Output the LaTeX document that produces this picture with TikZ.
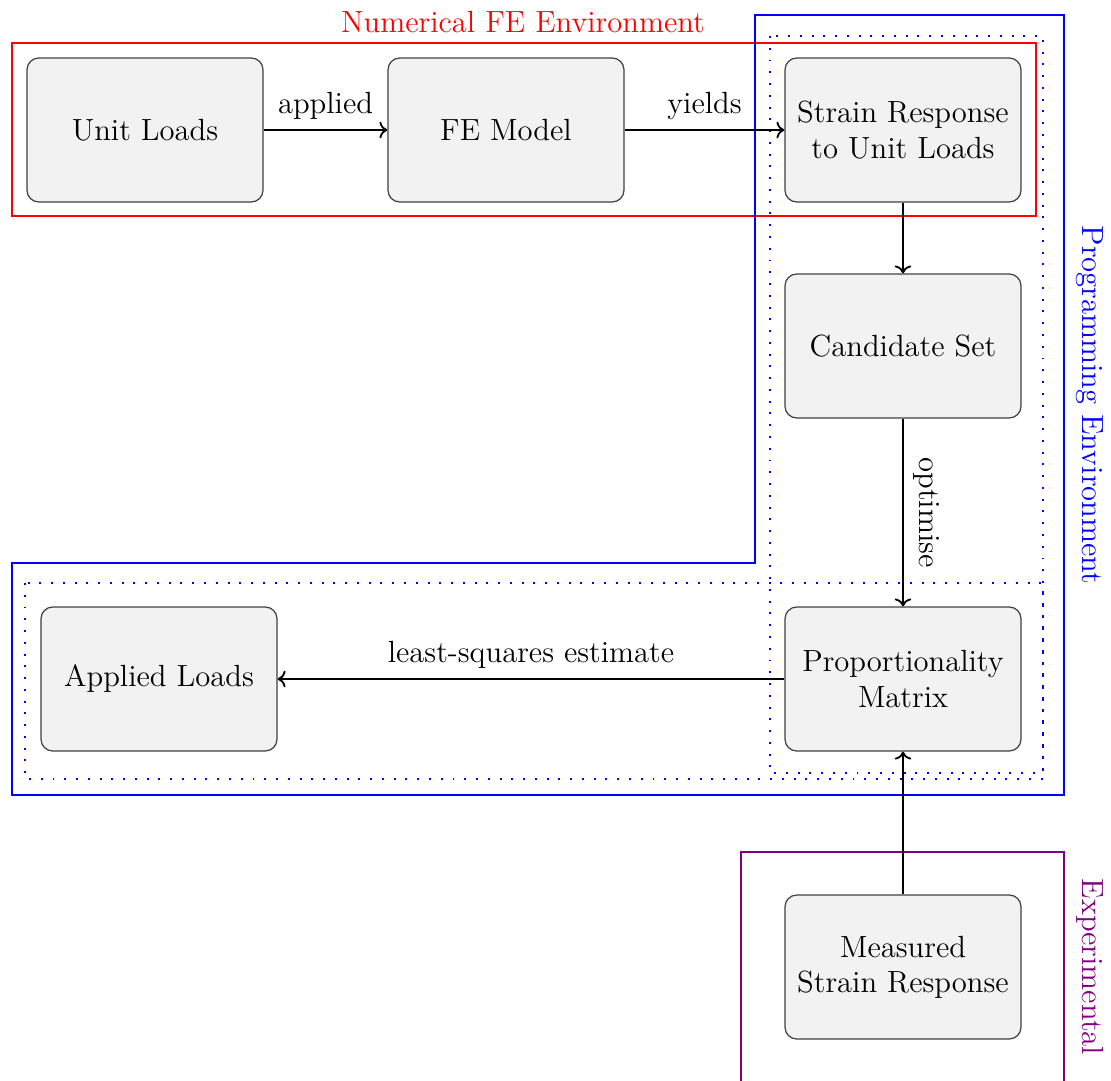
\documentclass[tikz,border=0pt,12pt]{standalone}
\usetikzlibrary{arrows.meta}
\begin{document}
\begin{tikzpicture}[x=0.408pt,y=-0.408pt,
  every node/.style={font=\fontsize{12.5pt}{14.4pt}\selectfont},
  box/.style={draw=black!75, fill=black!5, rounded corners=4.8pt, line width=0.5pt,
    minimum width=96.3pt, minimum height=58.75pt, align=center, inner sep=2pt},
  arr/.style={->, line width=0.75pt},
  redframe/.style={draw=red, line width=0.8pt},
  blueframe/.style={draw=blue, line width=0.8pt},
  bluedots/.style={draw=blue, line width=0.8pt, dash pattern=on 0.8pt off 4pt},
  purpframe/.style={draw={rgb,255:red,128;green,0;blue,128}, line width=0.8pt}]
\useasboundingbox (0,0) rectangle (1111,1080);

% frames
\draw[redframe] (12,43) rectangle (1036,216);
\draw[blueframe] (755,15) -- (1064,15) -- (1064,795) -- (12,795) -- (12,563) -- (755,563) -- cycle;
\draw[bluedots] (770,36) rectangle (1043,773);
\draw[bluedots] (25,583) rectangle (1043,779);
\draw[purpframe] (741,1085) -- (741,852) -- (1064,852) -- (1064,1085);

% frame labels
\node[text=red] (tfe) at (523,22) {Numerical FE Environment};
\node[text=blue, rotate=-90] (tprog) at (1090,405) {Programming Environment};
\node[text={rgb,255:red,128;green,0;blue,128}, rotate=-90] (texp) at (1090,967) {Experimental};

% nodes
\node[box] (unit) at (145,130) {Unit Loads};
\node[box] (fe) at (506,130) {FE Model};
\node[box] (strain) at (903,130) {Strain Response\\to Unit Loads};
\node[box] (cand) at (903,346) {Candidate Set};
\node[box] (prop) at (903,679) {Proportionality\\Matrix};
\node[box] (applied) at (159,679) {Applied Loads};
\node[box] (meas) at (903,967) {Measured\\Strain Response};

% connectors
\draw[arr] (unit) -- node[above] (lapp) {applied} (fe);
\draw[arr] (fe) -- node[above] (lyld) {yields} (strain);
\draw[arr] (strain) -- (cand);
\draw[arr] (cand) -- node[midway, sloped, above] (lopt) {optimise} (prop);
\draw[arr] (prop) -- node[above] (lls) {least-squares estimate} (applied);
\draw[arr] (meas) -- (prop);
\end{tikzpicture}
\end{document}
